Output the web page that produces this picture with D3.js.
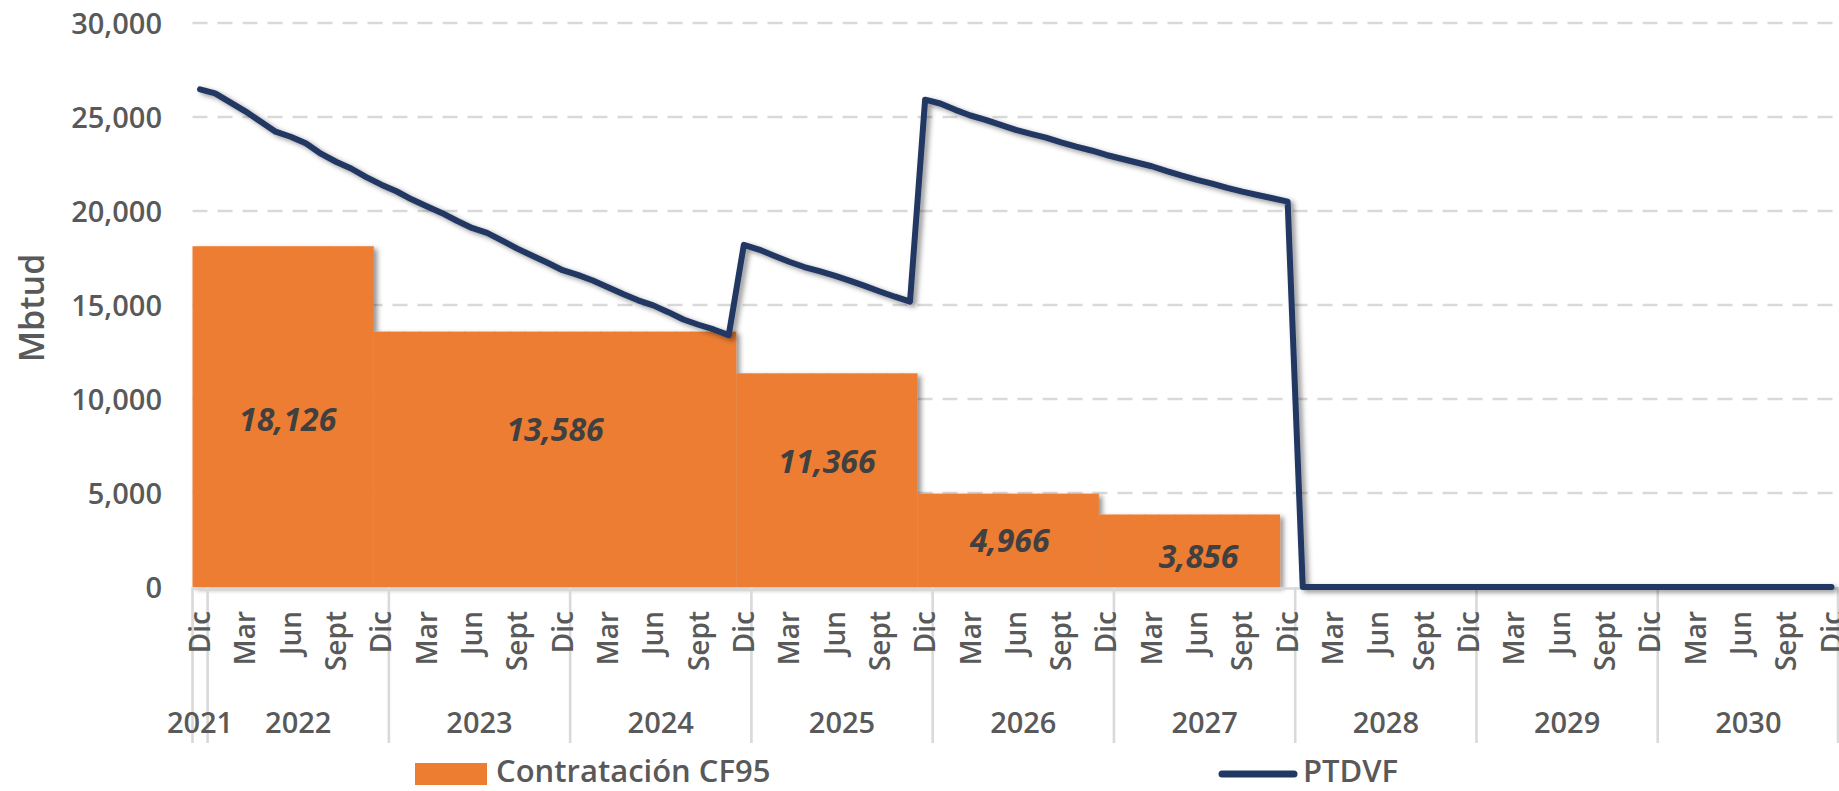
<!DOCTYPE html>
<html>
<head>
<meta charset="utf-8">
<script src="https://cdn.jsdelivr.net/npm/d3@7"></script>
<style>
  html, body { margin: 0; padding: 0; background: #ffffff; }
  svg { display: block; }
</style>
</head>
<body>
<svg id="chart" width="1839" height="791"></svg>
<script>
// ---------------- DATA ----------------
const years = ["2021", "2022", "2023", "2024", "2025", "2026", "2027", "2028", "2029", "2030"];
const monthNames = ["Ene", "Feb", "Mar", "Abr", "May", "Jun", "Jul", "Ago", "Sept", "Oct", "Nov", "Dic"];
const shownMonths = ["Mar", "Jun", "Sept", "Dic"];
const yTicks = [0, 5000, 10000, 15000, 20000, 25000, 30000];
const seriesNames = ["Contratación CF95", "PTDVF"];

// Monthly values: Dic 2021, then Ene–Dic for 2022 … 2030
const cf95 = [
  18126,
  18126, 18126, 18126, 18126, 18126, 18126, 18126, 18126, 18126, 18126, 18126, 13586,
  13586, 13586, 13586, 13586, 13586, 13586, 13586, 13586, 13586, 13586, 13586, 13586,
  13586, 13586, 13586, 13586, 13586, 13586, 13586, 13586, 13586, 13586, 13586, 11366,
  11366, 11366, 11366, 11366, 11366, 11366, 11366, 11366, 11366, 11366, 11366, 4966,
  4966, 4966, 4966, 4966, 4966, 4966, 4966, 4966, 4966, 4966, 4966, 3856,
  3856, 3856, 3856, 3856, 3856, 3856, 3856, 3856, 3856, 3856, 3856, 0,
  0, 0, 0, 0, 0, 0, 0, 0, 0, 0, 0, 0,
  0, 0, 0, 0, 0, 0, 0, 0, 0, 0, 0, 0,
  0, 0, 0, 0, 0, 0, 0, 0, 0, 0, 0, 0
];
const ptdvf = [
  26470,
  26260, 25780, 25300, 24760, 24220, 23950, 23600, 23050, 22620, 22260, 21800, 21400,
  21050, 20620, 20250, 19900, 19480, 19100, 18840, 18420, 18000, 17620, 17250, 16850,
  16600, 16300, 15950, 15580, 15250, 14980, 14620, 14230, 13950, 13700, 13400, 18200,
  17950, 17620, 17300, 17020, 16800, 16560, 16300, 16020, 15720, 15440, 15180, 25920,
  25720, 25380, 25080, 24850, 24580, 24320, 24100, 23900, 23650, 23420, 23220, 22980,
  22780, 22580, 22380, 22120, 21880, 21660, 21460, 21230, 21030, 20850, 20680, 20500,
  0, 0, 0, 0, 0, 0, 0, 0, 0, 0, 0, 0,
  0, 0, 0, 0, 0, 0, 0, 0, 0, 0, 0, 0,
  0, 0, 0, 0, 0, 0, 0, 0, 0, 0, 0, 0
];
// Value labels of the contract blocks
const blockLabels = [18126, 13586, 11366, 4966, 3856];
// label placement (month position, height in data units) – layout only
const blockLabelPos = [
  { m: 6.3, v: 8900 },
  { m: 24.0, v: 8400 },
  { m: 42.0, v: 6700 },
  { m: 54.1, v: 2450 },
  { m: 66.6, v: 1650 }
];

// categories: Dic 2021 then every month of 2022..2030
const categories = [{ year: years[0], month: "Dic" }];
years.slice(1).forEach(yr => monthNames.forEach(mn => categories.push({ year: yr, month: mn })));

// ---------------- LAYOUT ----------------
const W = 1839, H = 791;
const plotL = 192.5, plotR = 1839, plotT = 23, plotB = 587;
const FONT = "'Open Sans', 'Noto Sans', sans-serif";
const gridColor = "#D9D9D9";
const textColor = "#595959";
const orange = "#ED7D31";
const navy = "#203864";

const svg = d3.select("#chart");
svg.append("rect").attr("width", W).attr("height", H).attr("fill", "#fff");

const defs = svg.append("defs");
const f1 = defs.append("filter").attr("id", "shadow").attr("x", "-10%").attr("y", "-10%").attr("width", "130%").attr("height", "130%");
f1.append("feDropShadow").attr("dx", 3.5).attr("dy", 2.5).attr("stdDeviation", 2.6)
  .attr("flood-color", "#000").attr("flood-opacity", 0.42);

const x = d3.scaleBand().domain(d3.range(categories.length)).range([plotL, plotR]).paddingInner(0).paddingOuter(0);
const y = d3.scaleLinear().domain([0, 30000]).range([plotB, plotT]);
const bw = x.bandwidth();
const cx = i => x(i) + bw / 2;

// gridlines
svg.append("g").selectAll("line").data(yTicks.filter(t => t > 0)).join("line")
  .attr("x1", plotL).attr("x2", plotR)
  .attr("y1", d => y(d)).attr("y2", d => y(d))
  .attr("stroke", gridColor).attr("stroke-width", 2.6).attr("stroke-dasharray", "15 10");

// y axis labels
const yAxis = d3.axisLeft(y).tickValues(yTicks).tickFormat(d3.format(",")).tickSize(0).tickPadding(0);
const yg = svg.append("g").attr("transform", `translate(162,0)`).call(yAxis);
yg.select(".domain").remove();
yg.selectAll("text").attr("font-family", FONT).attr("font-size", 29).attr("font-weight", 600)
  .attr("fill", textColor).attr("dy", "0.36em");

// y axis title
svg.append("text").attr("transform", "translate(44,308) rotate(-90)")
  .attr("text-anchor", "middle").attr("font-family", FONT).attr("font-size", 34).attr("font-weight", 600)
  .attr("fill", textColor).text("Mbtud");

// bars
const barG = svg.append("g").attr("filter", "url(#shadow)");
barG.selectAll("rect").data(cf95.map((v, i) => ({ v, i })).filter(d => d.v > 0)).join("rect")
  .attr("x", d => x(d.i))
  .attr("width", d => (cf95[d.i + 1] === d.v ? bw + 0.8 : bw))
  .attr("y", d => y(d.v))
  .attr("height", d => y(0) - y(d.v))
  .attr("fill", orange);

// x axis baseline
svg.append("line").attr("x1", plotL).attr("x2", plotR).attr("y1", plotB + 1.5).attr("y2", plotB + 1.5)
  .attr("stroke", gridColor).attr("stroke-width", 2.6);

// year separators
const sepIdx = [0];
categories.forEach((c, i) => { if (i > 0 && c.month === "Ene") sepIdx.push(i); });
const sepG = svg.append("g");
sepG.selectAll("line").data(sepIdx).join("line")
  .attr("x1", d => x(d)).attr("x2", d => x(d))
  .attr("y1", plotB).attr("y2", 743)
  .attr("stroke", gridColor).attr("stroke-width", 2.6);
sepG.append("line").attr("x1", plotR - 1).attr("x2", plotR - 1).attr("y1", plotB).attr("y2", 743)
  .attr("stroke", gridColor).attr("stroke-width", 2.6);

// month labels
svg.append("g").selectAll("text")
  .data(categories.map((c, i) => ({ c, i })).filter(d => shownMonths.includes(d.c.month)))
  .join("text")
  .attr("transform", d => `translate(${cx(d.i)},611) rotate(-90)`)
  .attr("text-anchor", "end").attr("dy", "0.36em")
  .attr("font-family", FONT).attr("font-size", 28).attr("font-weight", 600).attr("fill", textColor)
  .text(d => d.c.month);

// year labels
svg.append("g").selectAll("text").data(years).join("text")
  .attr("x", yr => {
    const idx = categories.map((c, i) => ({ c, i })).filter(d => d.c.year === yr).map(d => d.i);
    return (x(idx[0]) + x(idx[idx.length - 1]) + bw) / 2;
  })
  .attr("y", 733)
  .attr("text-anchor", "middle")
  .attr("font-family", FONT).attr("font-size", 29).attr("font-weight", 600).attr("fill", textColor)
  .text(d => d);

// line
const line = d3.line().x((d, i) => cx(i)).y(d => y(d));
svg.append("path").datum(ptdvf).attr("d", line)
  .attr("fill", "none").attr("stroke", navy).attr("stroke-width", 6)
  .attr("stroke-linejoin", "round").attr("stroke-linecap", "round")
  .attr("filter", "url(#shadow)");

// block value labels
svg.append("g").selectAll("text").data(blockLabels).join("text")
  .attr("x", (d, i) => plotL + blockLabelPos[i].m * bw)
  .attr("y", (d, i) => y(blockLabelPos[i].v))
  .attr("dy", "0.36em").attr("text-anchor", "middle")
  .attr("font-family", FONT).attr("font-size", 32).attr("font-weight", 700).attr("font-style", "italic")
  .attr("fill", "#404040")
  .text(d => d3.format(",")(d));

// legend
const lg = svg.append("g");
lg.append("rect").attr("x", 415).attr("y", 763).attr("width", 72).attr("height", 22).attr("fill", orange);
lg.append("text").attr("x", 496).attr("y", 782).attr("font-family", FONT).attr("font-size", 31)
  .attr("font-weight", 600).attr("fill", textColor).text(seriesNames[0]);
lg.append("line").attr("x1", 1222).attr("x2", 1294).attr("y1", 774).attr("y2", 774)
  .attr("stroke", navy).attr("stroke-width", 7).attr("stroke-linecap", "round");
lg.append("text").attr("x", 1303).attr("y", 782).attr("font-family", FONT).attr("font-size", 31)
  .attr("font-weight", 600).attr("fill", textColor).text(seriesNames[1]);
</script>
</body>
</html>
